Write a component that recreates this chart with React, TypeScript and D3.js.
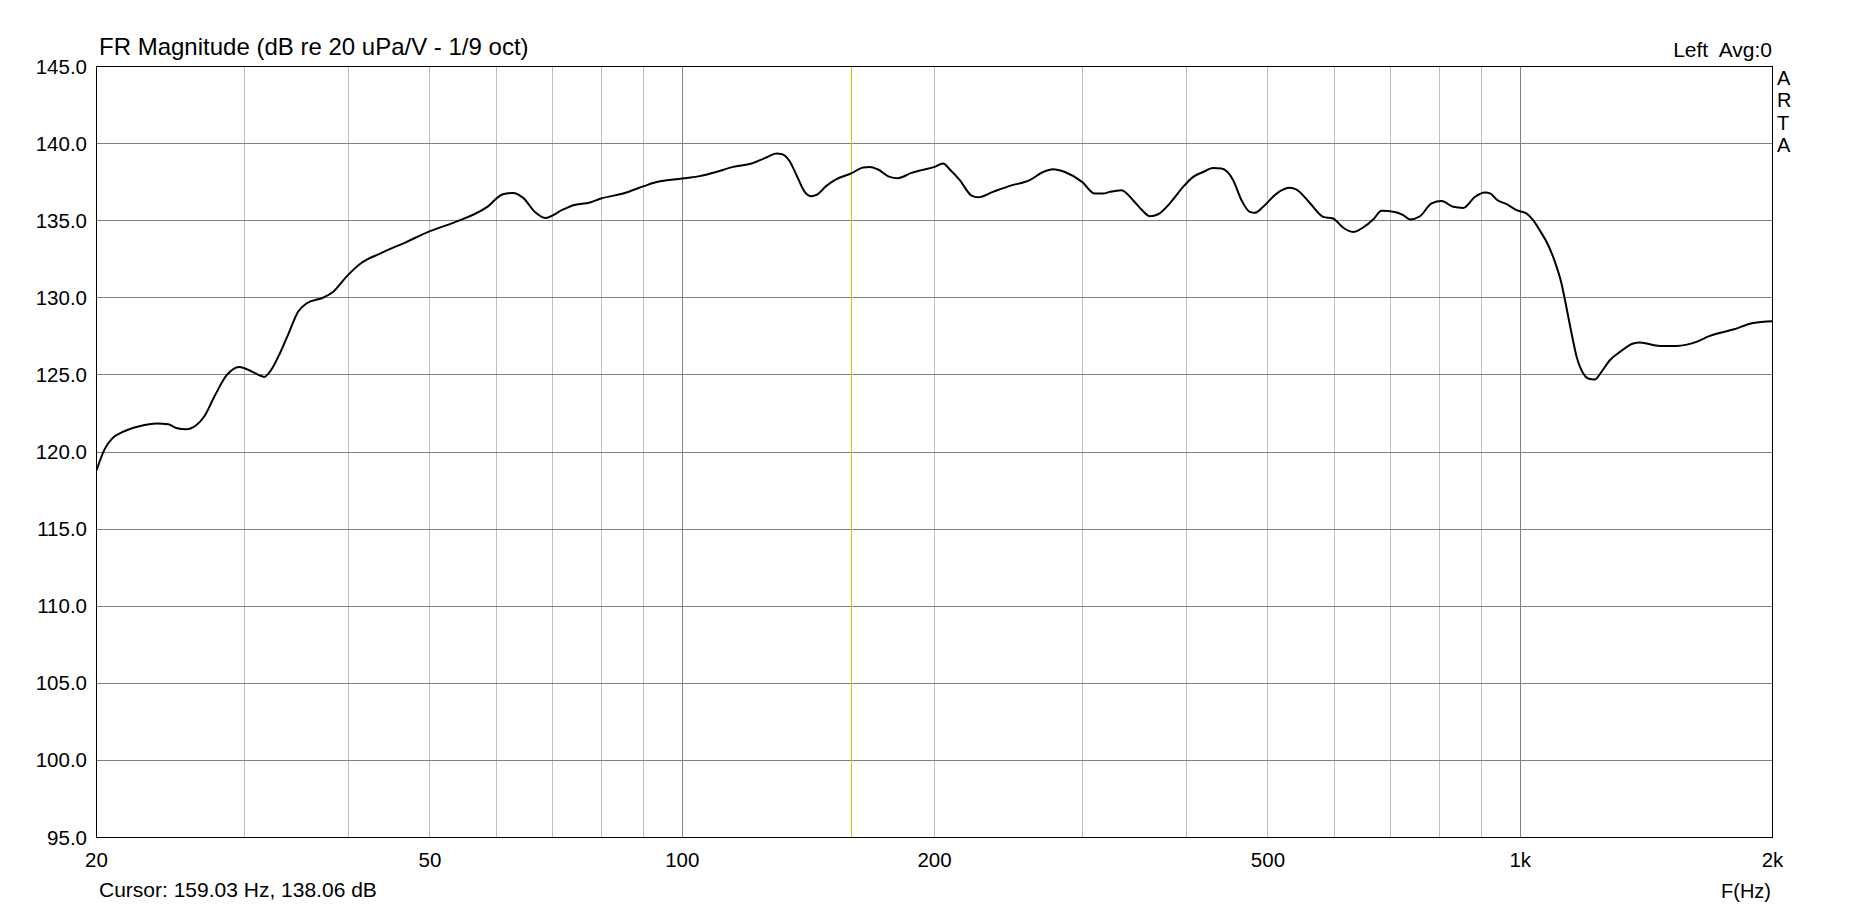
import { useEffect, useRef } from 'react';
import * as d3 from 'd3';

// FR magnitude
const freqs = [
  20, 20.46, 20.9, 21.5, 22.5, 23.6, 24.35, 24.9, 25.6, 26.3, 26.9, 27.7, 28.6, 29.6, 30.7, 31.7, 32.3, 33.1, 33.9,
  34.8, 35.6, 37.3, 38.3, 39.9, 41.4, 43.6, 46.9, 50, 53.3, 58.4, 61.1, 62.8, 64.6, 66.7, 68.6, 72.1, 74.1, 77.6, 80,
  85, 90, 92.3, 100, 104.9, 109.8, 115, 121, 126, 129.5, 131.3, 134.1, 136.9, 140, 142.6, 144.6, 148.6, 152.8, 159.03,
  164.4, 167.4, 171.3, 176.8, 180.9, 187.7, 193, 200, 204.8, 208.6, 214.4, 221.4, 225.5, 234.9, 246, 259.8, 269.6, 277,
  286.1, 300, 310.7, 317.9, 323.8, 334.3, 345.1, 353.2, 361.4, 369.8, 381.8, 396, 407.1, 418.3, 430, 440, 454.4, 464.9,
  475.7, 482.3, 493.4, 512, 530.9, 540.8, 561, 581.9, 598, 614.4, 631.8, 649.4, 667.6, 683.2, 708.6, 725, 738.5, 759.2,
  783.9, 805.8, 831.8, 855, 882.6, 907.5, 921.8, 937, 963.2, 990, 1017, 1036, 1055, 1080, 1100, 1120, 1136, 1151.6,
  1167.6, 1189, 1205, 1227, 1250, 1279, 1315, 1364, 1389, 1468, 1537, 1623, 1684, 1795, 1897, 2000,
];
const magDb = [
  118.8, 120.2, 120.9, 121.3, 121.67, 121.85, 121.8, 121.56, 121.48, 121.74, 122.32, 123.68, 124.98, 125.52, 125.2,
  124.87, 125.3, 126.39, 127.68, 129.09, 129.63, 130.02, 130.38, 131.47, 132.26, 132.87, 133.63, 134.32, 134.86, 135.86,
  136.72, 136.8, 136.48, 135.57, 135.18, 135.73, 136.0, 136.18, 136.44, 136.76, 137.24, 137.45, 137.74, 137.89, 138.16,
  138.49, 138.71, 139.1, 139.36, 139.33, 138.92, 137.95, 136.87, 136.59, 136.67, 137.26, 137.69, 138.06, 138.45, 138.49,
  138.32, 137.84, 137.76, 138.1, 138.28, 138.49, 138.71, 138.32, 137.63, 136.63, 136.52, 136.87, 137.26, 137.63, 138.16,
  138.34, 138.16, 137.52, 136.76, 136.76, 136.87, 136.98, 136.33, 135.73, 135.29, 135.42, 136.12, 137.19, 137.84, 138.16,
  138.42, 138.38, 137.63, 136.33, 135.57, 135.51, 135.9, 136.76, 137.13, 137.02, 136.15, 135.25, 135.14, 134.56, 134.27,
  134.56, 135.08, 135.64, 135.57, 135.36, 135.08, 135.29, 136.12, 136.27, 135.9, 135.83, 136.54, 136.83, 136.76, 136.37,
  136.07, 135.68, 135.47, 135.03, 134.38, 133.41, 132.33, 130.93, 129.31, 127.68, 126.17, 125.09, 124.77, 124.7, 125.2,
  125.95, 126.49, 127.04, 127.1, 126.88, 126.88, 127.14, 127.53, 127.94, 128.37, 128.48,
];

const dbTicks = [95, 100, 105, 110, 115, 120, 125, 130, 135, 140, 145];
const freqMinor = [30, 40, 50, 60, 70, 80, 90, 200, 300, 400, 500, 600, 700, 800, 900];
const freqMajor = [100, 1000];
const freqLabels = ['20', '50', '100', '200', '500', '1k', '2k'];
const freqLabelValues = [20, 50, 100, 200, 500, 1000, 2000];
const cursorFreq = 159.03;
const cursorDb = 138.06;

export default function App() {
  const ref = useRef<SVGSVGElement>(null);

  useEffect(() => {
    if (!ref.current) return;
    const W = 1868;
    const H = 909;
    const L = 96.5, R = 1772.5, T = 66.5, B = 837.5;
    const font = '"Liberation Sans", Arial, sans-serif';

    const svg = d3.select(ref.current);
    svg.selectAll('*').remove();
    svg.attr('width', W).attr('height', H);
    svg.append('rect').attr('width', W).attr('height', H).attr('fill', '#fff');

    const x = d3.scaleLog().domain([20, 2000]).range([L, R]);
    const y = d3.scaleLinear().domain([95, 145]).range([B, T]);
    const px = (v: number) => Math.floor(v) + 0.5;

    // grid
    svg.append('g').selectAll('line').data(freqMinor).join('line')
      .attr('x1', (d) => px(x(d))).attr('x2', (d) => px(x(d)))
      .attr('y1', T).attr('y2', B)
      .attr('stroke', '#c0c0c0').attr('stroke-width', 1);
    svg.append('g').selectAll('line').data(freqMajor).join('line')
      .attr('x1', (d) => px(x(d))).attr('x2', (d) => px(x(d)))
      .attr('y1', T).attr('y2', B)
      .attr('stroke', '#808080').attr('stroke-width', 1);
    svg.append('g').selectAll('line').data(dbTicks.slice(1, -1)).join('line')
      .attr('x1', L).attr('x2', R)
      .attr('y1', (d) => px(y(d))).attr('y2', (d) => px(y(d)))
      .attr('stroke', '#808080').attr('stroke-width', 1);

    // cursor
    svg.append('line')
      .attr('x1', px(x(cursorFreq))).attr('x2', px(x(cursorFreq)))
      .attr('y1', T).attr('y2', B)
      .attr('stroke', '#c8c800').attr('stroke-width', 1);

    // curve
    svg.append('clipPath').attr('id', 'plotClip')
      .append('rect').attr('x', L).attr('y', T).attr('width', R - L).attr('height', B - T);
    const pts = freqs.map((f, i) => [f, magDb[i]] as [number, number]);
    const line = d3.line<[number, number]>()
      .x((d) => x(d[0])).y((d) => y(d[1]))
      .curve(d3.curveMonotoneX);
    svg.append('path').datum(pts)
      .attr('clip-path', 'url(#plotClip)')
      .attr('fill', 'none').attr('stroke', '#000').attr('stroke-width', 2)
      .attr('stroke-linejoin', 'round')
      .attr('d', line);

    // frame
    svg.append('rect').attr('x', L).attr('y', T).attr('width', R - L).attr('height', B - T)
      .attr('fill', 'none').attr('stroke', '#000').attr('stroke-width', 1);

    // y labels
    svg.append('g').selectAll('text').data(dbTicks).join('text')
      .attr('x', 87).attr('y', (d) => y(d) + 7)
      .attr('text-anchor', 'end')
      .attr('font-family', font).attr('font-size', 20.5).attr('fill', '#000')
      .text((d) => d.toFixed(1));

    // x labels
    svg.append('g').selectAll('text').data(freqLabelValues).join('text')
      .attr('x', (d) => x(d)).attr('y', 867)
      .attr('text-anchor', 'middle')
      .attr('font-family', font).attr('font-size', 20.5).attr('fill', '#000')
      .text((d, i) => freqLabels[i]);

    const txt = (s: string, tx: number, ty: number, size: number, anchor = 'start') =>
      svg.append('text').attr('x', tx).attr('y', ty).attr('text-anchor', anchor)
        .attr('font-family', font).attr('font-size', size).attr('fill', '#000')
        .attr('xml:space', 'preserve').style('white-space', 'pre').text(s);

    txt('FR Magnitude (dB re 20 uPa/V - 1/9 oct)', 99, 55, 24);
    txt('Left  Avg:0', 1772, 57, 21, 'end');
    txt(`Cursor: ${cursorFreq.toFixed(2)} Hz, ${cursorDb.toFixed(2)} dB`, 99, 897, 21);
    txt('F(Hz)', 1771, 898, 20, 'end');
    ['A', 'R', 'T', 'A'].forEach((c, i) => txt(c, 1777, 85 + i * 22.3, 20));
  }, []);

  return <svg ref={ref} style={{ position: 'absolute', left: 0, top: 0, display: 'block' }} />;
}
